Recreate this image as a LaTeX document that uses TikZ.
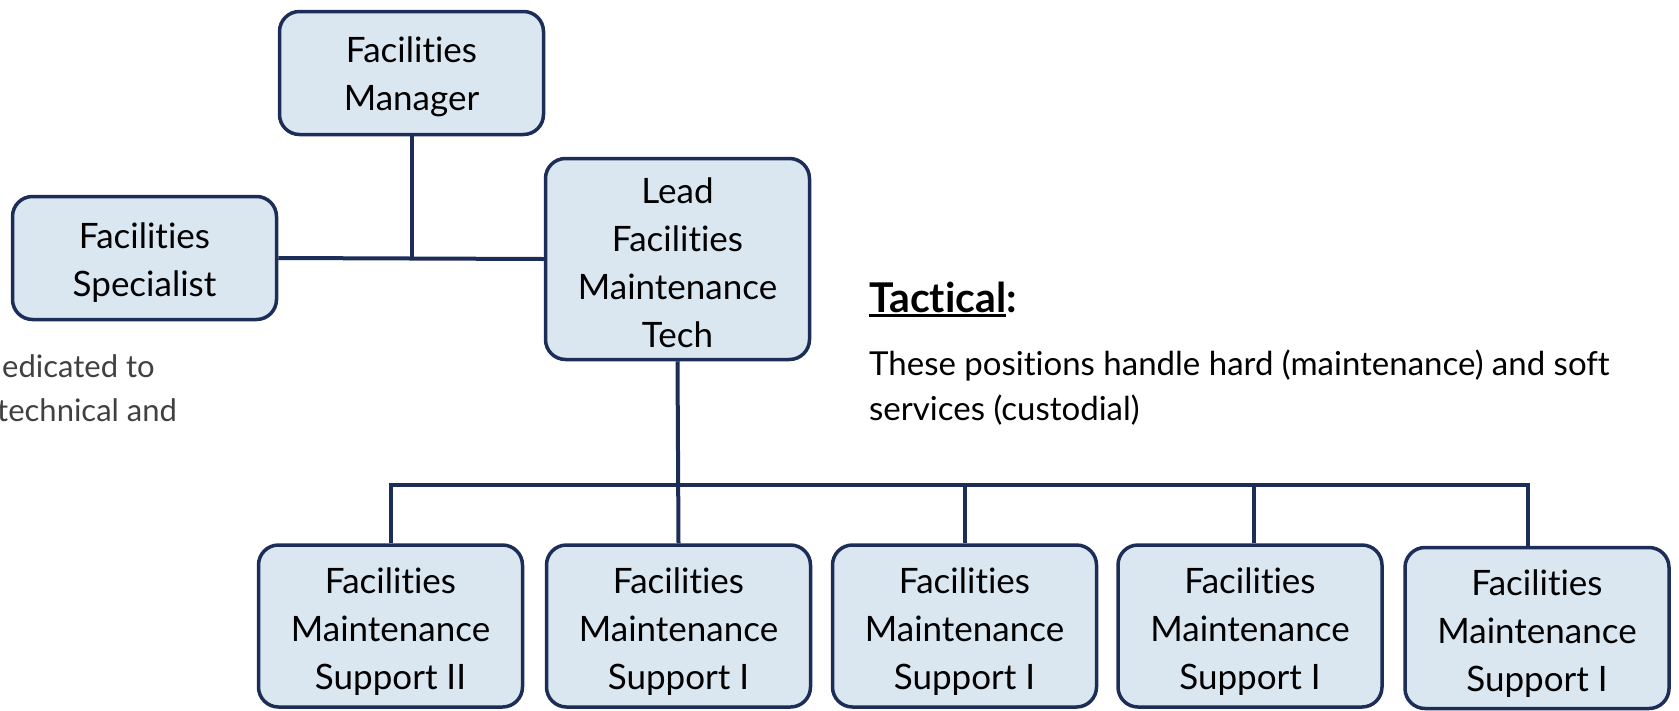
\documentclass[tikz,border=0pt]{standalone}
\usepackage{fontspec}
\setmainfont{Lato}[Ligatures={NoCommon,TeX}]
\definecolor{boxfill}{HTML}{DAE7F1}
\definecolor{navy}{HTML}{1C2E57}
\definecolor{greytext}{HTML}{404040}
\newcommand\ulbar[1]{\setbox0\hbox{#1}\rlap{\rule[-5pt]{\wd0}{3.5pt}}\box0}
\newcommand\dn{\rule{0pt}{34pt}}
\begin{document}
\begin{tikzpicture}[x=1pt,y=-1pt,
  box/.style={draw=navy, line width=3.5pt, fill=boxfill, rounded corners=20pt,
    minimum width=264pt, minimum height=123pt, align=center, inner sep=0pt,
    font=\fontsize{35}{48}\selectfont},
  conn/.style={draw=navy, line width=4pt},
  body/.style={inner sep=0pt, font=\fontsize{31}{45}\selectfont}]
\useasboundingbox (0,0) rectangle (1679,710);
\node[box] (mgr) at (411.5,73) {\dn Facilities\\Manager};
\node[box] (spec) at (144.5,258) {\dn Facilities\\Specialist};
\node[box, minimum height=201pt] (lead) at (677.5,259) {\dn Lead\\Facilities\\Maintenance\\Tech};
\node[box, minimum height=162pt] (b1) at (390.5,626) {\rule{0pt}{36pt}Facilities\\Maintenance\\Support II};
\node[box, minimum height=162pt] (b2) at (678.5,626) {\rule{0pt}{36pt}Facilities\\Maintenance\\Support I};
\node[box, minimum height=162pt] (b3) at (964.5,626) {\rule{0pt}{36pt}Facilities\\Maintenance\\Support I};
\node[box, minimum height=162pt] (b4) at (1250,626) {\rule{0pt}{36pt}Facilities\\Maintenance\\Support I};
\node[box, minimum height=161pt] (b5) at (1537,628) {\rule{0pt}{36pt}Facilities\\Maintenance\\Support I};
\coordinate (bus) at (678,485);
\draw[conn] (mgr.south) -- (mgr.south |- spec.east);
\draw[conn] (spec.east) -- (lead.west);
\draw[conn] (lead.south) -- (b2.north);
\draw[conn] (b1.north) |- (bus) -| ([xshift=-9pt]b5.north);
\draw[conn] (b3.north) -- (b3.north |- bus);
\draw[conn] ([xshift=4pt]b4.north) -- ([xshift=4pt]b4.north |- bus);
\node[inner sep=0pt, anchor=base west, font=\fontsize{41}{44}\selectfont\bfseries] (tac) at (869,312) {\ulbar{Tactical}:};
\node[body, anchor=base west, font=\fontsize{33}{45}\selectfont] (l1) at (869,375) {These positions handle hard (maintenance) and soft};
\node[body, anchor=base west, font=\fontsize{33}{45}\selectfont] (l2) at (869,420) {services (custodial)};
\node[body, anchor=base west, text=greytext] (g1) at (2,377) {edicated to};
\node[body, anchor=base west, text=greytext] (g2) at (-3,421) {technical and};
\end{tikzpicture}
\end{document}
